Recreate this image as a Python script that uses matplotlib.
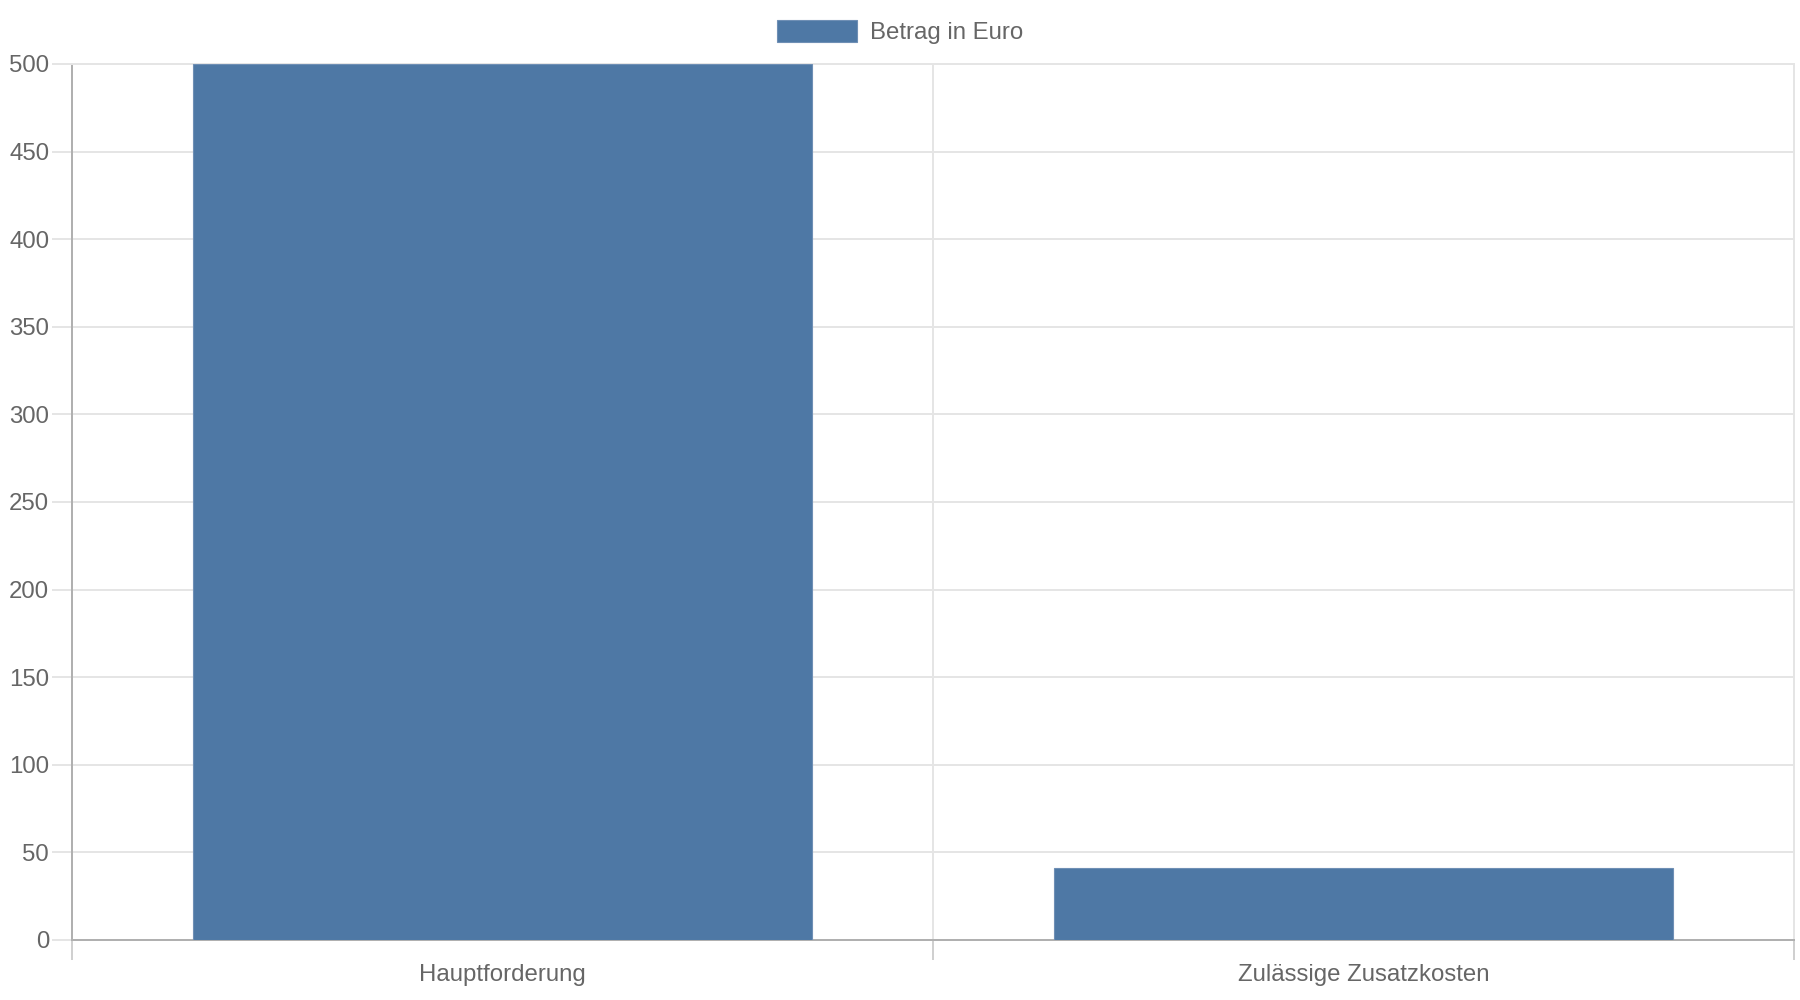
import matplotlib.pyplot as plt
from matplotlib.ticker import MultipleLocator, FixedLocator

## Data
categories = ["Hauptforderung", "Zulässige Zusatzkosten"]
values = [500, 41]
series_label = "Betrag in Euro"

## Style
plt.rcParams["font.family"] = ["Liberation Sans", "DejaVu Sans"]
text_color = "#666666"
grid_color = "#e5e5e5"
axis_color = "#b0b0b0"
bar_color = "#4e78a5"
fs = 17.3  # ~24 px at dpi 100

fig = plt.figure(figsize=(18, 10), dpi=100)
ax = fig.add_axes([72 / 1800, 0.06, (1794 - 72) / 1800, 0.876])

positions = list(range(len(categories)))
ax.bar(positions, values, width=0.72, color=bar_color,
       edgecolor="#6f8fb5", linewidth=0.8, label=series_label, zorder=3)

ax.set_xlim(-0.5, len(categories) - 0.5)
ax.set_ylim(0, 500)

# y axis: ticks every 50, light grid lines reaching past the axis
ax.yaxis.set_major_locator(MultipleLocator(50))
ax.grid(axis="y", color=grid_color, linewidth=1.44, zorder=0)
ax.tick_params(axis="y", length=14.4, width=1.44, color=grid_color,
               pad=2, labelsize=fs, labelcolor=text_color)

# x axis: labels at category centres, grid lines at category borders
ax.xaxis.set_major_locator(FixedLocator(positions))
ax.set_xticklabels(categories)
borders = [p - 0.5 for p in positions] + [positions[-1] + 0.5]
ax.xaxis.set_minor_locator(FixedLocator(borders))
ax.grid(axis="x", which="minor", color=grid_color, linewidth=1.44, zorder=0)
ax.tick_params(axis="x", which="major", length=0, pad=17,
               labelsize=fs, labelcolor=text_color)
ax.tick_params(axis="x", which="minor", length=14.4, width=1.44,
               color="#d0d0d0")

for side in ["left", "bottom"]:
    ax.spines[side].set_color(axis_color)
    ax.spines[side].set_linewidth(1.44)
for side in ["top", "right"]:
    ax.spines[side].set_color(grid_color)
    ax.spines[side].set_linewidth(1.44)
ax.set_axisbelow(True)

fig.legend(loc="center", bbox_to_anchor=(0.5, 0.968), frameon=False,
           fontsize=fs, labelcolor=text_color, handlelength=3.33,
           handleheight=1.0, handletextpad=0.55)

fig.savefig("out.png", dpi=100)
